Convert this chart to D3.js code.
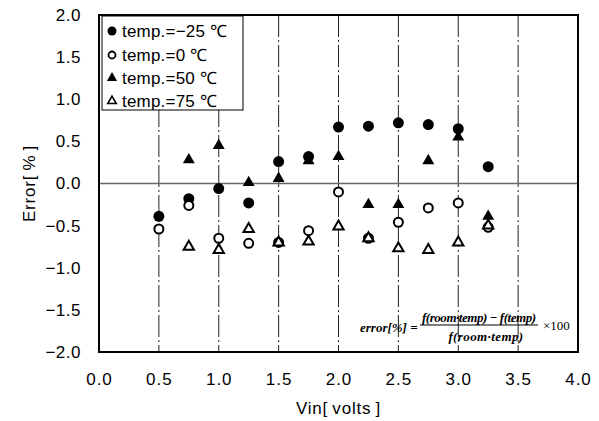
<!DOCTYPE html>
<html><head><meta charset="utf-8">
<script src="https://cdn.jsdelivr.net/npm/d3@7/dist/d3.min.js"></script>
<style>body{margin:0;background:#fff;} svg{display:block;}</style>
</head><body>
<svg id="c" width="599" height="421"></svg>
<script>
const vin = [0.5, 0.75, 1.0, 1.25, 1.5, 1.75, 2.0, 2.25, 2.5, 2.75, 3.0, 3.25];
const errM25 = [-0.39, -0.18, -0.06, -0.23, 0.26, 0.32, 0.67, 0.68, 0.72, 0.70, 0.65, 0.20];
const err0   = [-0.54, -0.26, -0.65, -0.71, -0.70, -0.56, -0.10, -0.65, -0.46, -0.29, -0.23, -0.52];
const err50  = [null, 0.28, 0.45, 0.01, 0.06, 0.27, 0.32, -0.25, -0.25, 0.27, 0.55, -0.39];
const err75  = [null, -0.75, -0.79, -0.54, -0.70, -0.69, -0.51, -0.65, -0.77, -0.79, -0.70, -0.50];
const seriesNames = ["temp.=\u221225 \u2103", "temp.=0 \u2103", "temp.=50 \u2103", "temp.=75 \u2103"];
const xTicks = [0.0, 0.5, 1.0, 1.5, 2.0, 2.5, 3.0, 3.5, 4.0];
const yTicks = [2.0, 1.5, 1.0, 0.5, 0.0, -0.5, -1.0, -1.5, -2.0];

const svg = d3.select("#c");
const L = 99, R = 578, T = 15, B = 352;
const x = d3.scaleLinear().domain([0, 4]).range([L, R]);
const y = d3.scaleLinear().domain([-2, 2]).range([B, T]);
const font = "'Liberation Sans', Arial, sans-serif";

// vertical grid lines
svg.append("g").selectAll("line").data(xTicks.filter(d => d > 0 && d < 4)).join("line")
  .attr("x1", d => x(d)).attr("x2", d => x(d)).attr("y1", T).attr("y2", B)
  .attr("stroke", "#222").attr("stroke-width", 1).attr("stroke-dasharray", "22,3,2,3");

// zero line
svg.append("line").attr("x1", L).attr("x2", R).attr("y1", y(0)).attr("y2", y(0))
  .attr("stroke", "#666").attr("stroke-width", 1.5);

// frame
svg.append("rect").attr("x", L).attr("y", T).attr("width", R - L).attr("height", B - T)
  .attr("fill", "none").attr("stroke", "#000").attr("stroke-width", 2);

// axes (labels only)
const xAxis = d3.axisBottom(x).tickValues(xTicks).tickFormat(d3.format(".1f")).tickSize(0).tickPadding(21);
const gx = svg.append("g").attr("transform", `translate(0,${B})`).call(xAxis);
gx.select(".domain").remove();
gx.selectAll("text").attr("font-family", font).attr("font-size", 17).attr("letter-spacing", 1).attr("fill", "#000");

const yFmt = d => (d < 0 ? "\u2212" + Math.abs(d).toFixed(1) : d.toFixed(1));
const yAxis = d3.axisLeft(y).tickValues(yTicks).tickFormat(yFmt).tickSize(0).tickPadding(18);
const gy = svg.append("g").attr("transform", `translate(${L},0)`).call(yAxis);
gy.select(".domain").remove();
gy.selectAll("text").attr("font-family", font).attr("font-size", 17).attr("letter-spacing", 0.5).attr("fill", "#000");

svg.append("text").attr("x", x(2)).attr("y", 414).attr("text-anchor", "middle")
  .attr("font-family", font).attr("font-size", 17).attr("letter-spacing", 0.8).text("Vin[\u2009volts\u2009]");
svg.append("text").attr("transform", `translate(35,${y(0)}) rotate(-90)`).attr("text-anchor", "middle")
  .attr("font-family", font).attr("font-size", 17).attr("letter-spacing", 0.8).text("Error[\u2009%\u2009]");

// markers
const triFilled = d3.symbol().type(d3.symbolTriangle).size(62);
const triOpen = d3.symbol().type(d3.symbolTriangle).size(46);
function pts(arr) { return vin.map((v, i) => ({ v, e: arr[i] })).filter(d => d.e !== null); }
const g = svg.append("g");
g.selectAll(".s0").data(pts(errM25)).join("circle")
  .attr("cx", d => x(d.v)).attr("cy", d => y(d.e)).attr("r", 5.5).attr("fill", "#000");
g.selectAll(".s2").data(pts(err50)).join("path")
  .attr("d", triFilled).attr("transform", d => `translate(${x(d.v)},${y(d.e)})`).attr("fill", "#000");
g.selectAll(".s1").data(pts(err0)).join("circle")
  .attr("cx", d => x(d.v)).attr("cy", d => y(d.e)).attr("r", 4.5).attr("fill", "#fff")
  .attr("stroke", "#000").attr("stroke-width", 2);
g.selectAll(".s3").data(pts(err75)).join("path")
  .attr("d", triOpen).attr("transform", d => `translate(${x(d.v)},${y(d.e)})`).attr("fill", "#fff")
  .attr("stroke", "#000").attr("stroke-width", 2);

// legend
const lg = svg.append("g");
lg.append("rect").attr("x", 102).attr("y", 16).attr("width", 141).attr("height", 94)
  .attr("fill", "#fff").attr("stroke", "#000").attr("stroke-width", 1);
const rowY = [31, 55, 78, 101];
seriesNames.forEach((name, i) => {
  const cy = rowY[i];
  if (i === 0) lg.append("circle").attr("cx", 112).attr("cy", cy).attr("r", 4.5).attr("fill", "#000");
  if (i === 1) lg.append("circle").attr("cx", 112).attr("cy", cy).attr("r", 3.5).attr("fill", "#fff").attr("stroke", "#000").attr("stroke-width", 1.8);
  if (i === 2) lg.append("path").attr("d", d3.symbol().type(d3.symbolTriangle).size(45)).attr("transform", `translate(112,${cy})`).attr("fill", "#000");
  if (i === 3) lg.append("path").attr("d", d3.symbol().type(d3.symbolTriangle).size(32)).attr("transform", `translate(112,${cy})`).attr("fill", "#fff").attr("stroke", "#000").attr("stroke-width", 1.6);
  lg.append("text").attr("x", 122).attr("y", cy + 6).attr("font-family", font).attr("font-size", 17).attr("letter-spacing", 0.2).text(name);
});

// formula
const ff = "'Liberation Serif', 'DejaVu Serif', serif";
const fg = svg.append("g").attr("font-family", ff).attr("font-style", "italic").attr("font-weight", "bold").attr("font-size", 13);
fg.append("text").attr("x", 360).attr("y", 332).text("error[%] =");
fg.append("text").attr("x", 422).attr("y", 322).attr("textLength", 114).attr("lengthAdjust", "spacing").text("f(room\u00b7temp) \u2212 f(temp)");
fg.append("line").attr("x1", 420).attr("x2", 538).attr("y1", 325).attr("y2", 325).attr("stroke", "#000").attr("stroke-width", 1);
fg.append("text").attr("x", 486).attr("y", 341).attr("text-anchor", "middle").attr("letter-spacing", 0.4).text("f(room\u00b7temp)");
svg.append("text").attr("x", 543).attr("y", 330).attr("font-family", ff).attr("font-size", 13).text("\u00d7100");
</script>
</body></html>
